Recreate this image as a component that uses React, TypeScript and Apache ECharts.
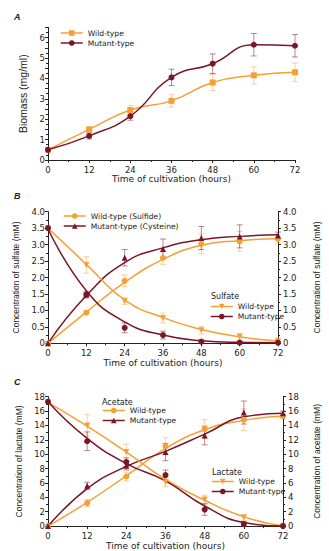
import React, { useEffect, useRef } from "react";
import * as echarts from "echarts";

const hours = [0, 12, 24, 36, 48, 60, 72];

// Panel A – biomass
const aWild = [0.5, 1.5, 2.45, 2.9, 3.8, 4.15, 4.3];
const aWildErr = [0, 0.12, 0.22, 0.3, 0.4, 0.42, 0.45];
const aMut = [0.5, 1.18, 2.15, 4.05, 4.72, 5.65, 5.6];
const aMutErr = [0, 0.15, 0.2, 0.4, 0.48, 0.55, 0.55];

// Panel B – sulfide / cysteine / sulfate
const bSulfide = [0, 0.93, 1.9, 2.6, 3.02, 3.1, 3.18];
const bSulfideErr = [0, 0.05, 0.18, 0.2, 0.3, 0.3, 0.1];
const bSulfideFit = [0, 0.95, 1.85, 2.55, 2.98, 3.12, 3.18];
const bCys = [0, 1.48, 2.6, 2.87, 3.2, 3.25, 3.28];
const bCysErr = [0, 0.05, 0.25, 0.3, 0.35, 0.35, 0.1];
const bCysFit = [0, 1.45, 2.45, 2.9, 3.15, 3.25, 3.3];
const bSulfWild = [3.5, 2.38, 1.28, 0.77, 0.4, 0.2, 0.08];
const bSulfWildErr = [0, 0.25, 0.1, 0.15, 0.12, 0.1, 0.05];
const bSulfWildFit = [3.5, 2.4, 1.32, 0.78, 0.42, 0.2, 0.07];
const bSulfMut = [3.5, 1.48, 0.47, 0.25, 0.05, 0.02, 0.02];
const bSulfMutErr = [0, 0.1, 0.15, 0.12, 0.05, 0.02, 0.02];
const bSulfMutFit = [3.48, 1.6, 0.65, 0.25, 0.08, 0.03, 0.02];

// Panel C – acetate / lactate
const cAceWild = [0, 3.2, 6.9, 11.1, 13.5, 14.8, 15.3];
const cAceWildErr = [0, 0.5, 0.6, 1.2, 1.3, 1.5, 0.3];
const cAceWildFit = [0, 3.3, 7.0, 10.8, 13.4, 14.7, 15.3];
const cAceMut = [0, 5.6, 8.4, 10.3, 12.6, 15.8, 15.7];
const cAceMutErr = [0, 0.5, 0.6, 1.2, 1.3, 1.6, 0.3];
const cAceMutFit = [0, 5.2, 8.3, 10.4, 12.8, 15.2, 15.7];
const cLacWild = [17.3, 14, 10.3, 6.1, 3.7, 1.2, 0];
const cLacWildErr = [0, 1.5, 1.1, 0.6, 0.6, 0.4, 0];
const cLacWildFit = [17.2, 13.9, 10.3, 6.5, 3.6, 1.3, 0];
const cLacMut = [17.3, 11.8, 8.9, 7.1, 2.3, 0.3, 0];
const cLacMutErr = [0, 1.3, 0.6, 0.7, 0.8, 0.3, 0];
const cLacMutFit = [17.3, 12.2, 8.7, 6.3, 2.8, 0.5, 0];

const ORANGE = "#F5A032";
const DARK = "#7A1626";
const ORANGE_ERR = "rgba(246,170,85,0.55)";
const DARK_ERR = "rgba(130,40,55,0.55)";
const FONT = "DejaVu Sans";
const NAMEFONT = "Liberation Sans";

const pairs = (ys: number[]) => hours.map((h, i) => [h, ys[i]]);
const triples = (ys: number[], es: number[]) => hours.map((h, i) => [h, ys[i], es[i]]);

function errSeries(idx: number, ys: number[], es: number[], color: string) {
  return {
    type: "custom",
    xAxisIndex: idx,
    yAxisIndex: idx,
    silent: true,
    z: 1,
    data: triples(ys, es),
    encode: { x: 0, y: 1 },
    renderItem: (params: any, api: any) => {
      const x = api.value(0);
      const y = api.value(1);
      const e = api.value(2);
      if (!e) return { type: "group", children: [] };
      const t = api.coord([x, y + e]);
      const b = api.coord([x, y - e]);
      const w = 3;
      const st = { stroke: color, lineWidth: 1 };
      return {
        type: "group",
        children: [
          { type: "line", shape: { x1: t[0], y1: t[1], x2: b[0], y2: b[1] }, style: st },
          { type: "line", shape: { x1: t[0] - w, y1: t[1], x2: t[0] + w, y2: t[1] }, style: st },
          { type: "line", shape: { x1: b[0] - w, y1: b[1], x2: b[0] + w, y2: b[1] }, style: st },
        ],
      };
    },
  };
}

function fitSeries(idx: number, ys: number[], color: string) {
  return {
    type: "line",
    name: "fit" + idx + color + ys[1],
    xAxisIndex: idx,
    yAxisIndex: idx,
    data: pairs(ys),
    smooth: true,
    showSymbol: false,
    silent: true,
    z: 2,
    lineStyle: { color, width: 1.5 },
  };
}

function pointSeries(
  name: string,
  idx: number,
  ys: number[],
  color: string,
  symbol: string,
  withLine: boolean,
  rotate = 0
) {
  return {
    type: "line",
    name,
    xAxisIndex: idx,
    yAxisIndex: idx,
    data: pairs(ys),
    smooth: true,
    symbol,
    symbolSize: 6,
    symbolRotate: rotate,
    z: 3,
    itemStyle: { color },
    lineStyle: { color, width: 1.5, opacity: withLine ? 1 : 0 },
  };
}

const xAxisBase = (gridIndex: number, nameGap: number) => ({
  type: "value",
  gridIndex,
  min: 0,
  max: 72,
  interval: 12,
  name: "Time of cultivation (hours)",
  nameLocation: "middle",
  nameGap,
  nameTextStyle: { fontFamily: FONT, fontSize: 9, color: "#222" },
  axisLine: { show: true, lineStyle: { color: "#222", width: 1 } },
  axisTick: { show: true, length: 3, lineStyle: { color: "#222" } },
  minorTick: { show: true, splitNumber: 2, length: 2, lineStyle: { color: "#222" } },
  axisLabel: { fontFamily: FONT, fontSize: 8.5, color: "#222", margin: 5 },
  splitLine: { show: false },
});

const yAxisBase = (
  gridIndex: number,
  min: number,
  max: number,
  interval: number,
  name: string,
  nameGap: number,
  fmt: (v: number) => string,
  position = "left",
  nameSize = 8.5,
  labelMargin = 3
) => ({
  type: "value",
  gridIndex,
  min,
  max,
  interval,
  position,
  name,
  nameLocation: "middle",
  nameGap,
  nameRotate: 90,
  nameTextStyle: { fontFamily: NAMEFONT, fontSize: nameSize, color: "#222" },
  axisLine: { show: true, onZero: false, lineStyle: { color: "#222", width: 1 } },
  axisTick: { show: true, length: 3, lineStyle: { color: "#222" } },
  minorTick: { show: true, splitNumber: 2, length: 2, lineStyle: { color: "#222" } },
  axisLabel: { fontFamily: FONT, fontSize: 8.5, color: "#222", margin: labelMargin, formatter: fmt },
  splitLine: { show: false },
});

const legendBase = (left: number, top: number, data: string[]) => ({
  orient: "vertical",
  left,
  top,
  data,
  itemWidth: 22,
  itemHeight: 7,
  itemGap: 2,
  padding: 0,
  selectedMode: false,
  textStyle: { fontFamily: FONT, fontSize: 7.6, color: "#222" },
  lineStyle: { opacity: 1, width: 1.5 },
  formatter: (n: string) => n.split("|")[1],
});

export default function App() {
  const ref = useRef<HTMLDivElement>(null);
  useEffect(() => {
    document.body.style.margin = "0";
    const chart = echarts.init(ref.current!, undefined, { renderer: "svg" });
    const f1 = (v: number) => (v === 0 ? "0" : v.toFixed(1));
    const fi = (v: number) => String(v);
    const option: any = {
      animation: false,
      grid: [
        { left: 48, right: 34, top: 27.4, bottom: 391 },
        { left: 48, right: 31, top: 211.7, bottom: 207.7 },
        { left: 48, right: 30, top: 396.7, bottom: 21.7 },
      ],
      xAxis: [xAxisBase(0, 13), xAxisBase(1, 14), xAxisBase(2, 13)],
      yAxis: [
        yAxisBase(0, 0, 6.5, 0.5, "Biomass (mg/ml)", 18, (v) => (v % 1 === 0 ? String(v) : ""), "left", 10.5),
        yAxisBase(1, 0, 4, 0.5, "Concentration of sulfate (mM)", 22, f1),
        yAxisBase(2, 0, 18, 2, "Concentration of lactate (mM)", 17, fi),
        yAxisBase(1, 0, 4, 0.5, "Concentration of sulfate (mM)", 34, f1, "right", 8.5, 5),
        yAxisBase(2, 0, 18, 2, "Concentration of acetate (mM)", 29, fi, "right", 8.5, 5),
      ],
      legend: [
        legendBase(60, 29, ["A|Wild-type", "A|Mutant-type"]),
        legendBase(63, 212, ["B|Wild-type (Sulfide)", "B|Mutant-type (Cysteine)"]),
        legendBase(210, 302.5, ["Bs|Wild-type", "Bs|Mutant-type"]),
        legendBase(102, 406.5, ["Ca|Wild-type", "Ca|Mutant-type"]),
        legendBase(211, 477.5, ["Cl|Wild-type", "Cl|Mutant-type"]),
      ],
      graphic: [
        { type: "text", left: 14, top: 12, style: { text: "A", font: "italic bold 9px Liberation Sans", fill: "#222" } },
        { type: "text", left: 14, top: 191, style: { text: "B", font: "italic bold 9px Liberation Sans", fill: "#222" } },
        { type: "text", left: 14, top: 377, style: { text: "C", font: "italic bold 9px Liberation Sans", fill: "#222" } },
        { type: "text", left: 211, top: 292, style: { text: "Sulfate", font: "8px DejaVu Sans", fill: "#222" } },
        { type: "text", left: 102, top: 398, style: { text: "Acetate", font: "8px DejaVu Sans", fill: "#222" } },
        { type: "text", left: 212, top: 468, style: { text: "Lactate", font: "8px DejaVu Sans", fill: "#222" } },
      ],
      series: [
        // A
        errSeries(0, aWild, aWildErr, ORANGE_ERR),
        errSeries(0, aMut, aMutErr, DARK_ERR),
        pointSeries("A|Wild-type", 0, aWild, ORANGE, "rect", true),
        pointSeries("A|Mutant-type", 0, aMut, DARK, "circle", true),
        // B
        errSeries(1, bSulfide, bSulfideErr, ORANGE_ERR),
        errSeries(1, bCys, bCysErr, DARK_ERR),
        errSeries(1, bSulfWild, bSulfWildErr, ORANGE_ERR),
        errSeries(1, bSulfMut, bSulfMutErr, DARK_ERR),
        fitSeries(1, bSulfideFit, ORANGE),
        fitSeries(1, bCysFit, DARK),
        fitSeries(1, bSulfWildFit, ORANGE),
        fitSeries(1, bSulfMutFit, DARK),
        pointSeries("B|Wild-type (Sulfide)", 1, bSulfide, ORANGE, "circle", false),
        pointSeries("B|Mutant-type (Cysteine)", 1, bCys, DARK, "triangle", false),
        pointSeries("Bs|Wild-type", 1, bSulfWild, ORANGE, "triangle", false, 180),
        pointSeries("Bs|Mutant-type", 1, bSulfMut, DARK, "circle", false),
        // C
        errSeries(2, cAceWild, cAceWildErr, ORANGE_ERR),
        errSeries(2, cAceMut, cAceMutErr, DARK_ERR),
        errSeries(2, cLacWild, cLacWildErr, ORANGE_ERR),
        errSeries(2, cLacMut, cLacMutErr, DARK_ERR),
        fitSeries(2, cAceWildFit, ORANGE),
        fitSeries(2, cAceMutFit, DARK),
        fitSeries(2, cLacWildFit, ORANGE),
        fitSeries(2, cLacMutFit, DARK),
        pointSeries("Ca|Wild-type", 2, cAceWild, ORANGE, "circle", false),
        pointSeries("Ca|Mutant-type", 2, cAceMut, DARK, "triangle", false),
        pointSeries("Cl|Wild-type", 2, cLacWild, ORANGE, "triangle", false, 180),
        pointSeries("Cl|Mutant-type", 2, cLacMut, DARK, "circle", false),
      ],
    };
    chart.setOption(option);
    return () => chart.dispose();
  }, []);
  return (
    <div
      ref={ref}
      style={{ position: "absolute", left: 0, top: 0, width: 329, height: 551, background: "#fff" }}
    />
  );
}
